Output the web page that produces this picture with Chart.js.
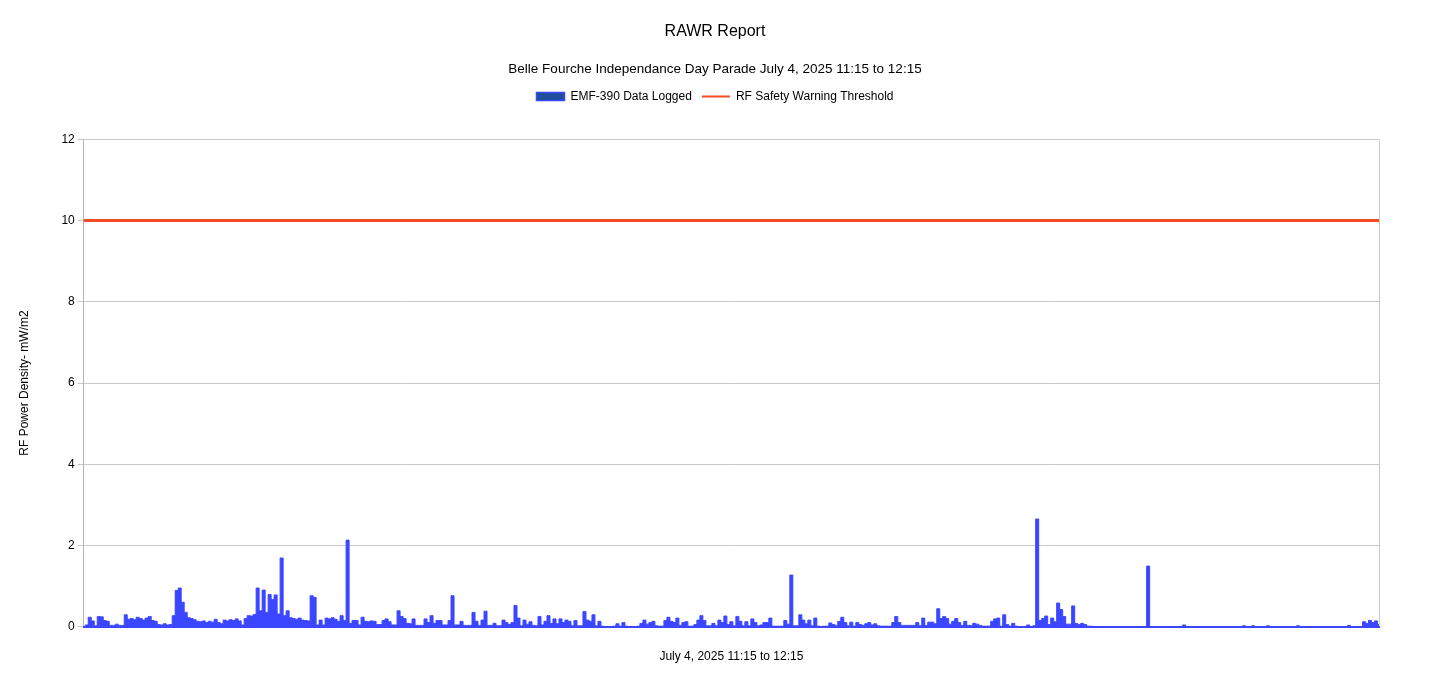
<!DOCTYPE html>
<html>
<head>
<meta charset="utf-8">
<title>RAWR Report</title>
<script src="https://cdn.jsdelivr.net/npm/chart.js@4.4.1/dist/chart.umd.min.js"></script>
<style>
  html, body { margin: 0; padding: 0; background: #ffffff; }
  #wrap { width: 1430px; height: 674px; }
</style>
</head>
<body>
<div id="wrap"><canvas id="rfCanvas" width="1430" height="674"></canvas></div>
<script>
// EMF-390 readings, mW/m2 (start of parade -> end)
const emfSegment1 = [
    0, 0.04, 0.23, 0.14, 0.02, 0.25, 0.24, 0.15, 0.13, 0.03,
    0.03, 0.06, 0.03, 0.03, 0.29, 0.18, 0.2, 0.17, 0.23, 0.2,
    0.16, 0.21, 0.25, 0.15, 0.13, 0.05, 0.04, 0.07, 0.04, 0.05,
    0.27, 0.89, 0.95, 0.6, 0.35, 0.22, 0.2, 0.17, 0.13, 0.12,
    0.14, 0.1, 0.13, 0.11, 0.18, 0.1, 0.07, 0.16, 0.14, 0.17,
    0.15, 0.19, 0.14, 0.04, 0.2, 0.27, 0.26, 0.3, 0.95, 0.39,
    0.9, 0.35, 0.79, 0.67, 0.78, 0.31, 1.69, 0.27, 0.39, 0.22,
    0.2, 0.18, 0.21, 0.16, 0.15, 0.14, 0.76, 0.72, 0.04, 0.16,
    0.04, 0.21, 0.19, 0.22, 0.18, 0.13, 0.27, 0.15, 2.13, 0.08,
    0.15, 0.15, 0.04, 0.23, 0.13, 0.12, 0.14, 0.13, 0.05, 0.05
];
const emfSegment2 = [
    0.15, 0.19, 0.12, 0.04, 0.04, 0.39, 0.25, 0.2, 0.08, 0.07,
    0.19, 0.03, 0.03, 0.03, 0.19, 0.1, 0.27, 0.08, 0.15, 0.15,
    0.04, 0.04, 0.15, 0.76, 0.04, 0.04, 0.13, 0.03, 0.03, 0.03,
    0.35, 0.13, 0.03, 0.16, 0.38, 0.03, 0.03, 0.08, 0.02, 0.02,
    0.16, 0.1, 0.05, 0.1, 0.52, 0.21, 0.02, 0.16, 0.06, 0.12,
    0.03, 0.02, 0.25, 0.04, 0.13, 0.27, 0.08, 0.19, 0.07, 0.19,
    0.1, 0.16, 0.13, 0.02, 0.15, 0.02, 0.02, 0.37, 0.16, 0.13,
    0.29, 0.02, 0.13, 0.01, 0, 0, 0, 0.01, 0.07, 0.01,
    0.1, 0.01, 0, 0, 0, 0.01, 0.08, 0.16, 0.06, 0.1,
    0.13, 0.02, 0.01, 0.01, 0.15, 0.23, 0.13, 0.1, 0.21, 0.03
];
const emfSegment3 = [
    0.1, 0.12, 0.01, 0.01, 0.05, 0.16, 0.27, 0.15, 0.02, 0.02,
    0.08, 0.02, 0.16, 0.1, 0.26, 0.05, 0.12, 0.02, 0.25, 0.13,
    0.02, 0.12, 0.02, 0.19, 0.1, 0.02, 0.04, 0.1, 0.1, 0.21,
    0.01, 0.01, 0.01, 0.01, 0.15, 0.06, 1.27, 0.02, 0.02, 0.29,
    0.16, 0.07, 0.16, 0.02, 0.21, 0.01, 0, 0.01, 0.01, 0.09,
    0.05, 0.03, 0.13, 0.23, 0.1, 0.02, 0.11, 0.01, 0.1, 0.05,
    0.03, 0.07, 0.1, 0.04, 0.07, 0.02, 0.01, 0.01, 0.01, 0.01,
    0.1, 0.25, 0.1, 0.03, 0.03, 0.03, 0.03, 0.03, 0.1, 0.02,
    0.21, 0.03, 0.11, 0.11, 0.07, 0.44, 0.2, 0.25, 0.2, 0.06,
    0.13, 0.2, 0.1, 0.03, 0.13, 0.03, 0.03, 0.08, 0.06, 0.03
];
const emfSegment4 = [
    0.01, 0.01, 0.01, 0.13, 0.19, 0.21, 0.01, 0.29, 0.05, 0.01,
    0.08, 0.01, 0, 0, 0, 0.04, 0, 0.02, 2.65, 0.15,
    0.2, 0.26, 0.05, 0.21, 0.12, 0.58, 0.42, 0.25, 0.06, 0.06,
    0.51, 0.08, 0.05, 0.08, 0.05, 0.01, 0.01, 0, 0, 0,
    0, 0, 0, 0, 0, 0, 0, 0, 0, 0,
    0, 0, 0, 0, 0, 1.49, 0, 0, 0, 0,
    0, 0, 0, 0, 0, 0, 0, 0.04, 0, 0,
    0, 0, 0, 0, 0, 0, 0, 0, 0, 0,
    0, 0, 0, 0, 0, 0, 0, 0.02, 0, 0,
    0.02, 0, 0, 0, 0, 0.02, 0, 0, 0, 0,
    0, 0, 0, 0, 0, 0.02, 0, 0, 0, 0,
    0, 0, 0, 0, 0, 0, 0, 0, 0, 0,
    0, 0, 0.03, 0, 0, 0, 0, 0.12, 0.08, 0.15,
    0.1, 0.14, 0.05
];
const thresholdLevel = 10;   // RF safety warning, mW/m2
const yTicks = { min: 0, max: 12, step: 2 };

const emfReadings = emfSegment1.concat(emfSegment2, emfSegment3, emfSegment4);
// sample times across 11:15 -> 12:15 (x labels are not drawn on the chart)
const sampleLabels = emfReadings.map(function (v, i) {
    const secs = Math.round(i * 3600 / (emfReadings.length - 1));
    const mins = 15 + Math.floor(secs / 60);
    const hh = 11 + Math.floor(mins / 60);
    return hh + ':' + String(mins % 60).padStart(2, '0') + ':' + String(secs % 60).padStart(2, '0');
});
const thresholdLine = emfReadings.map(function () { return thresholdLevel; });

const fontFamily = "'Liberation Sans', Arial, Helvetica, sans-serif";
const emfBlue = '#3a46ff';

// extra room under the legend
const legendGap = {
    id: 'legendGap',
    beforeInit(chart) {
        const fit = chart.legend.fit;
        chart.legend.fit = function () {
            fit.call(this);
            this.height += 27;
        };
    }
};

// grey frame line on the right side of the plot
const rightBorder = {
    id: 'rightBorder',
    afterDraw(chart) {
        const a = chart.chartArea;
        const c = chart.ctx;
        c.save();
        c.strokeStyle = '#c8c8c8';
        c.lineWidth = 1;
        c.beginPath();
        c.moveTo(Math.round(a.right) + 0.5, a.top);
        c.lineTo(Math.round(a.right) + 0.5, a.bottom - 2);
        c.stroke();
        c.restore();
    }
};

const ctx = document.getElementById('rfCanvas');
var rfChart = new Chart(ctx, {
    type: 'line',
    data: {
        labels: sampleLabels,
        datasets: [
            {
                label: 'EMF-390 Data Logged',
                data: emfReadings,
                borderColor: emfBlue,
                backgroundColor: emfBlue,
                borderWidth: 1,
                fill: 'origin',
                stepped: 'middle',
                pointRadius: 0,
                order: 2
            },
            {
                label: 'RF Safety Warning Threshold',
                data: thresholdLine,
                borderColor: '#f44b23',
                borderWidth: 3,
                fill: false,
                pointRadius: 0,
                order: 1
            }
        ]
    },
    options: {
        responsive: false,
        animation: false,
        layout: { padding: { left: 10, right: 10, top: 0, bottom: 10 } },
        plugins: {
            title: {
                display: true,
                text: 'RAWR Report',
                color: '#000',
                font: { family: fontFamily, size: 16, weight: 'normal' },
                padding: { top: 22, bottom: 20 }
            },
            subtitle: {
                display: true,
                text: 'Belle Fourche Independance Day Parade July 4, 2025 11:15 to 12:15',
                color: '#000',
                font: { family: fontFamily, size: 13.5, weight: 'normal' },
                padding: { top: 0, bottom: 3 }
            },
            legend: {
                display: true,
                position: 'top',
                labels: {
                    color: '#000',
                    font: { family: fontFamily, size: 12 },
                    usePointStyle: true,
                    pointStyleWidth: 28,
                    boxHeight: 8,
                    padding: 10,
                    generateLabels: function (chart) {
                        return [
                            {
                                text: 'EMF-390 Data Logged',
                                fillStyle: '#1f4f9a',
                                strokeStyle: emfBlue,
                                lineWidth: 1.5,
                                pointStyle: 'rect',
                                datasetIndex: 0,
                                hidden: !chart.isDatasetVisible(0),
                                fontColor: '#000'
                            },
                            {
                                text: 'RF Safety Warning Threshold',
                                fillStyle: '#f44b23',
                                strokeStyle: '#f44b23',
                                lineWidth: 2,
                                pointStyle: 'line',
                                datasetIndex: 1,
                                hidden: !chart.isDatasetVisible(1),
                                fontColor: '#000'
                            }
                        ];
                    }
                }
            },
            tooltip: { enabled: false }
        },
        scales: {
            x: {
                type: 'category',
                offset: false,
                grid: { display: false },
                border: { display: true, color: emfBlue, width: 2, z: 1 },
                ticks: { display: false },
                title: {
                    display: true,
                    text: 'July 4, 2025 11:15 to 12:15',
                    color: '#000',
                    font: { family: fontFamily, size: 12 },
                    padding: { top: 15, bottom: 0 }
                }
            },
            y: {
                min: yTicks.min,
                max: yTicks.max,
                ticks: {
                    stepSize: yTicks.step,
                    color: '#000',
                    padding: 3,
                    font: { family: fontFamily, size: 12 }
                },
                grid: { color: '#c8c8c8', tickLength: 6 },
                border: { color: '#b4b4b4' },
                title: {
                    display: true,
                    text: 'RF Power Density- mW/m2',
                    color: '#000',
                    font: { family: fontFamily, size: 12 },
                    padding: { top: 7, bottom: 27 }
                }
            },
            yRight: {
                type: 'linear',
                position: 'right',
                min: yTicks.min,
                max: yTicks.max,
                grid: { display: false },
                border: { display: false },
                ticks: { display: false },
                afterFit: function (scale) { scale.width = 41; }
            }
        }
    },
    plugins: [legendGap, rightBorder]
});
</script>
</body>
</html>
